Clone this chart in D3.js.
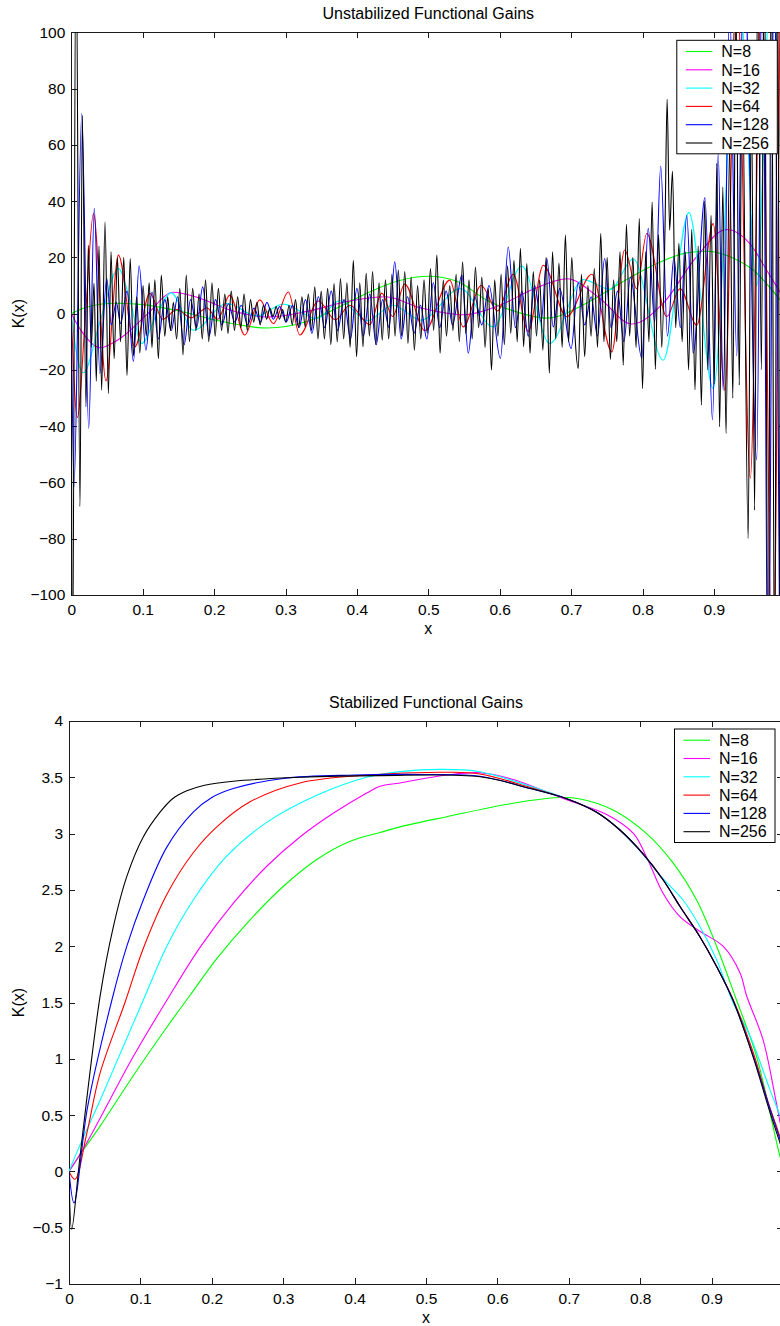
<!DOCTYPE html>
<html>
<head>
<meta charset="utf-8">
<script src="https://cdn.jsdelivr.net/npm/d3@7"></script>
<style>
  body { margin: 0; background: #fff; }
  svg { display: block; font-family: "Liberation Sans", Arial, Helvetica, sans-serif; }
  .tick text { font-size: 15.5px; fill: #000; }
  .axis path, .axis line { stroke: #1a1a1a; shape-rendering: crispEdges; }
  .title, .label, .legend text { font-size: 16px; fill: #000; }
</style>
</head>
<body>
<svg id="chart" width="780" height="1326"></svg>
<script>
const seriesNames = ['N=8', 'N=16', 'N=32', 'N=64', 'N=128', 'N=256'];
const xTicks = [0, 0.1, 0.2, 0.3, 0.4, 0.5, 0.6, 0.7, 0.8, 0.9];
const unstabTicks = [-100, -80, -60, -40, -20, 0, 20, 40, 60, 80, 100];
const stabTicks = [-1, -0.5, 0, 0.5, 1, 1.5, 2, 2.5, 3, 3.5, 4];

// unstabilized gains, [x, K(x)] (mostly extrema)
const unstabN8 = [[0,0],[0.02,2.2],[0.06,3.7],[0.1,3.2],[0.15,1.0],[0.2,-2.2],[0.274,-5.1],[0.33,-2.8],[0.38,3],[0.42,8],[0.46,11.8],[0.5,13.3],[0.54,11.5],[0.582,4.8],[0.625,0.5],[0.666,-1.6],[0.72,3.5],[0.77,11],[0.815,17.2],[0.86,21.5],[0.889,22.2],[0.925,20],[0.955,15.5],[0.993,4.8]];
const unstabN16 = [[0,0],[0.015,-6.5],[0.04,-12.1],[0.07,-8.5],[0.105,-0.5],[0.143,7.6],[0.18,5.5],[0.22,1.5],[0.275,-1.2],[0.33,0.8],[0.39,4.5],[0.44,6],[0.49,2],[0.55,-0.4],[0.6,3],[0.65,9],[0.694,12.4],[0.74,5.5],[0.785,-3.7],[0.83,4],[0.875,20],[0.918,29.9],[0.95,25],[0.975,15],[0.993,7.5]];
const unstabN32 = [[0,0],[0.006,-12],[0.017,-21],[0.04,-3],[0.066,16],[0.083,4],[0.0986,-10.6],[0.12,0],[0.14,7.4],[0.171,-5.9],[0.218,3.6],[0.26,-0.8],[0.297,3.4],[0.344,-1.8],[0.376,4.6],[0.415,-2.5],[0.45,3],[0.49,-2.3],[0.545,8.9],[0.591,-4.7],[0.631,16.9],[0.67,-10.6],[0.717,12.1],[0.755,8.6],[0.787,19.4],[0.829,-16.5],[0.865,35.9],[0.899,-26.6],[0.935,115],[0.96,10],[0.98,120],[0.995,40]];
const unstabN64 = [[0,0],[0.0084,-36.9],[0.02,0],[0.031,35.6],[0.0486,-23.9],[0.066,20.8],[0.089,-11.8],[0.11,7.2],[0.128,-2],[0.148,1.5],[0.168,-1.5],[0.19,2],[0.205,-2],[0.222,6.6],[0.243,-7.6],[0.264,4.9],[0.283,-3.5],[0.304,7.7],[0.32,-7.6],[0.346,4.5],[0.37,-2.2],[0.39,3],[0.418,-3.9],[0.435,7.3],[0.45,-1],[0.467,10.5],[0.495,-6],[0.53,11.9],[0.549,-4.7],[0.574,10],[0.597,1],[0.619,14],[0.64,-6.3],[0.661,17.2],[0.694,-1.1],[0.729,14],[0.757,-13.6],[0.775,22.6],[0.792,8.9],[0.806,28.5],[0.834,-1.1],[0.8526,8.9],[0.876,-4.1],[0.899,32],[0.9155,-27.2],[0.932,120],[0.951,-58.5],[0.967,120],[0.982,-140],[0.993,130]];
const unstabN128 = [[0,0],[0.0038,-61.5],[0.0146,71.1],[0.0244,-40.8],[0.0322,37.4],[0.040,-21.3],[0.0496,12.5],[0.056,-4],[0.063,4],[0.069,-3.5],[0.078,8],[0.087,-17],[0.095,17],[0.1045,-13],[0.113,7.7],[0.122,-9],[0.131,5],[0.14,-6],[0.149,6],[0.158,-11],[0.167,5],[0.1756,-5],[0.184,9.5],[0.193,-8],[0.202,5],[0.211,-4],[0.22,3.5],[0.229,-3],[0.238,3],[0.247,-4],[0.256,2],[0.265,-3],[0.274,4],[0.283,-2],[0.292,2.5],[0.301,-3],[0.31,3],[0.319,-5],[0.328,5],[0.337,-7],[0.346,6],[0.355,-5],[0.364,8],[0.373,-6],[0.382,5],[0.391,-9],[0.4,9],[0.409,-8],[0.418,7],[0.427,-11],[0.436,5],[0.445,-5],[0.453,18.4],[0.462,-9],[0.471,6],[0.48,-7],[0.489,3],[0.498,-9],[0.507,11],[0.516,-5],[0.525,8],[0.534,-4],[0.547,13.7],[0.556,-14.1],[0.565,6],[0.575,-4],[0.585,10],[0.601,-15.9],[0.612,23.7],[0.622,-5],[0.631,8],[0.64,-8],[0.649,10],[0.658,-3],[0.666,19.6],[0.675,-4.7],[0.684,9],[0.70,-12.4],[0.71,11],[0.719,-4],[0.728,6],[0.737,-8],[0.747,19.6],[0.756,-5],[0.765,8],[0.774,-10],[0.783,13],[0.799,-15.9],[0.808,30.3],[0.817,-3],[0.8255,52.4],[0.835,-8],[0.844,20],[0.853,-5],[0.862,35],[0.871,-14],[0.8875,41.3],[0.898,-37.8],[0.906,56.9],[0.913,-27.2],[0.922,110],[0.932,-15],[0.942,130],[0.96,-52],[0.968,140],[0.976,-150],[0.985,150],[0.993,-150]];
const unstabN256 = [[0,0],[0.0015,-140],[0.0066,140],[0.0122,-68.6],[0.0154,70.5],[0.0206,-33.1],[0.0238,24.3],[0.028,-12],[0.0318,10.8],[0.035,-24],[0.0388,24],[0.0425,-27.2],[0.0472,32.6],[0.052,-28.4],[0.0556,22],[0.060,-16],
  [0.0645,20],[0.069,-10],[0.0735,20],[0.078,-22],[0.0825,19.6],[0.087,-15],[0.0915,6],[0.096,-14],[0.1005,10],[0.105,-8],[0.109,11],[0.113,-12],[0.117,12],[0.122,-16],[0.126,13.7],[0.131,-8],
  [0.135,6],[0.139,-6],[0.143,4],[0.1475,-9],[0.152,9],[0.1565,-14.7],[0.161,13.7],[0.1655,-10],[0.17,9],[0.1745,-6],[0.179,7],[0.1835,-9],[0.188,12],[0.1925,-10],[0.197,11],[0.2015,-8],
  [0.206,9],[0.2105,-6],[0.215,7],[0.2195,-7],[0.224,8],[0.2285,-6],[0.233,6],[0.2375,-5],[0.242,7],[0.2465,-6],[0.251,5],[0.2555,-3],[0.26,4],[0.2645,-4],[0.269,3],[0.2735,-2],
  [0.278,2],[0.2825,-1],[0.287,2.5],[0.2915,-2],[0.296,1.5],[0.3005,-3],[0.305,3],[0.3095,-4],[0.314,5],[0.3185,-5],[0.323,6],[0.3275,-4.7],[0.332,7],[0.3365,-6],[0.341,9.5],[0.3455,-9],
  [0.35,8],[0.3545,-9],[0.359,9],[0.3635,-11],[0.368,10.7],[0.3725,-10],[0.377,12.5],[0.3815,-9],[0.386,11],[0.3905,-12],[0.395,19],[0.3995,-15.3],[0.404,11],[0.4085,-11.8],[0.413,14.3],[0.4175,-8],
  [0.422,15],[0.4265,-11],[0.431,11],[0.4355,-9.4],[0.44,12],[0.4445,-9],[0.449,14],[0.4535,-8],[0.458,15.5],[0.4625,-8],[0.467,15],[0.4715,-10.6],[0.476,13],[0.4805,-13],[0.485,10],[0.4895,-9],
  [0.494,12],[0.4985,-7],[0.503,16],[0.5075,-6],[0.512,20.8],[0.5165,-14.1],[0.521,11.9],[0.5255,-8],[0.53,10],[0.5345,-6],[0.539,14],[0.5435,-10],[0.548,18.4],[0.5525,-7],[0.557,12],[0.5615,-9],
  [0.566,16.6],[0.5705,-5],[0.575,13],[0.5795,-12],[0.584,9],[0.5885,-20],[0.593,12],[0.5975,-8],[0.602,14],[0.6065,-11],[0.611,17],[0.6155,-7],[0.62,19],[0.6245,-10],[0.629,23.2],[0.6335,-11.8],
  [0.638,17.8],[0.6425,-14.1],[0.647,15],[0.6515,-8],[0.656,12],[0.6605,-13],[0.665,20],[0.6695,-21.2],[0.674,22],[0.6785,-9],[0.683,18],[0.6875,-12],[0.692,27.9],[0.6965,-10],[0.701,20],[0.7055,-8],
  [0.71,-19.5],[0.7145,14],[0.719,-15.3],[0.7235,10],[0.728,-8],[0.7325,16],[0.737,-12],[0.7415,28.5],[0.746,-10],[0.7505,20],[0.755,-16.3],[0.7595,12],[0.764,-10],[0.7685,22],[0.773,-18.3],[0.7775,31.8],
  [0.782,-8],[0.7865,20],[0.791,-12],[0.7955,33.8],[0.80,-26.6],[0.8045,22],[0.809,-10],[0.8135,39.7],[0.818,-19.8],[0.8225,28],[0.827,-12],[0.8315,30],[0.8345,76.2],[0.838,29.7],[0.842,50.6],[0.8465,-5],
  [0.851,25],[0.8555,-10],[0.86,22],[0.8645,-20],[0.869,30],[0.8735,-27],[0.878,24],[0.8825,-32.5],[0.887,40],[0.8915,-20],[0.896,35],[0.9005,-25],[0.904,53.4],[0.908,-40.2],[0.9125,45],[0.917,-42.6],
  [0.922,60],[0.9265,-30],[0.931,110],[0.9355,-25.4],[0.9395,90],[0.948,-79.9],[0.9525,80],[0.957,-69.8],[0.9615,130],[0.9665,-20],[0.9705,140],[0.976,-140],[0.9805,140],[0.985,-140],[0.989,140],[0.993,-140],[0.997,140]];

// stabilized gains, [x, K(x)]
const stabN8 = [[0,0],[0.02,0.19],[0.0434,0.4],[0.09,0.85],[0.137,1.28],[0.169,1.56],[0.207,1.89],[0.253,2.23],[0.30,2.53],[0.347,2.77],[0.393,2.93],[0.4356,3.01],[0.4636,3.06],[0.529,3.15],[0.622,3.27],[0.687,3.32],[0.7145,3.31],[0.762,3.21],[0.809,3.0],[0.846,2.74],[0.879,2.41],[0.907,2.0],[0.935,1.52],[0.963,1.02],[0.996,0.13],[1,0.06]];
const stabN16 = [[0,0],[0.02,0.2],[0.0434,0.47],[0.09,1.02],[0.137,1.52],[0.1835,1.99],[0.23,2.38],[0.277,2.71],[0.3235,2.97],[0.37,3.18],[0.417,3.36],[0.4356,3.42],[0.4636,3.45],[0.529,3.52],[0.5756,3.54],[0.622,3.48],[0.697,3.30],[0.753,3.17],[0.7907,3.0],[0.809,2.79],[0.832,2.47],[0.856,2.26],[0.884,2.13],[0.916,2.0],[0.94,1.76],[0.949,1.56],[0.972,1.17],[0.99,0.63],[1,0.3]];
const stabN32 = [[0,0],[0.0144,0.22],[0.0434,0.63],[0.076,1.11],[0.104,1.52],[0.137,2.0],[0.174,2.41],[0.2208,2.8],[0.277,3.1],[0.347,3.34],[0.417,3.5],[0.4636,3.55],[0.52,3.57],[0.5756,3.55],[0.646,3.42],[0.697,3.31],[0.739,3.19],[0.772,3.03],[0.799,2.85],[0.832,2.6],[0.86,2.41],[0.884,2.17],[0.907,1.88],[0.93,1.5],[0.954,1.2],[0.982,0.72],[0.996,0.49],[1,0.4]];
const stabN64 = [[0,0],[0.0084,-0.07],[0.025,0.34],[0.0434,0.87],[0.0784,1.5],[0.104,1.98],[0.137,2.46],[0.174,2.83],[0.207,3.06],[0.253,3.28],[0.3235,3.45],[0.417,3.52],[0.529,3.545],[0.5756,3.53],[0.646,3.41],[0.697,3.31],[0.739,3.19],[0.772,3.03],[0.804,2.82],[0.832,2.59],[0.856,2.35],[0.884,2.08],[0.907,1.82],[0.93,1.53],[0.958,1.06],[0.979,0.62],[0.996,0.3],[1,0.2]];
const stabN128 = [[0,0],[0.007,-0.28],[0.026,0.57],[0.06,1.52],[0.081,2.0],[0.104,2.41],[0.137,2.88],[0.174,3.19],[0.2,3.32],[0.23,3.40],[0.30,3.49],[0.4,3.52],[0.5,3.525],[0.5756,3.51],[0.646,3.40],[0.697,3.31],[0.739,3.19],[0.772,3.03],[0.804,2.82],[0.832,2.59],[0.856,2.35],[0.884,2.08],[0.907,1.82],[0.93,1.52],[0.958,1.03],[0.982,0.55],[0.996,0.28],[1,0.2]];
const stabN256 = [[0,0],[0.0038,-0.514],[0.0154,0.13],[0.0434,1.55],[0.062,2.17],[0.081,2.62],[0.104,2.97],[0.1275,3.19],[0.145,3.31],[0.165,3.38],[0.19,3.43],[0.23,3.465],[0.3235,3.50],[0.4356,3.515],[0.5756,3.505],[0.646,3.40],[0.697,3.31],[0.739,3.19],[0.772,3.03],[0.804,2.82],[0.832,2.59],[0.856,2.35],[0.884,2.08],[0.907,1.82],[0.93,1.52],[0.958,1.02],[0.982,0.52],[0.996,0.25],[1,0.17]];

(function(){
  const colors = ['#00ff00', '#ff00ff', '#00ffff', '#ff0000', '#0000ff', '#000000'];
  const svg = d3.select('#chart');

  function panel(cfg){
    let x = d3.scaleLinear().domain([0, 1]).range([cfg.left, cfg.right]);
    let y = d3.scaleLinear().domain(cfg.yDomain).range([cfg.bottom, cfg.top]);
    let g = svg.append('g');
    let fmt = d3.format('');
    let noLabel = () => '';

    g.append('clipPath').attr('id', cfg.id + '-clip')
      .append('rect')
      .attr('x', cfg.left).attr('y', cfg.top)
      .attr('width', cfg.right - cfg.left).attr('height', cfg.bottom - cfg.top);

    let axes = [
      [d3.axisBottom(x).tickValues(xTicks).tickFormat(fmt).tickPadding(9), 'translate(0,' + cfg.bottom + ')'],
      [d3.axisTop(x).tickValues(xTicks).tickFormat(noLabel), 'translate(0,' + cfg.top + ')'],
      [d3.axisLeft(y).tickValues(cfg.yTicks).tickFormat(fmt).tickPadding(6), 'translate(' + cfg.left + ',0)'],
      [d3.axisRight(y).tickValues(cfg.yTicks).tickFormat(noLabel), 'translate(' + cfg.right + ',0)']
    ];
    axes.forEach(a => {
      g.append('g')
        .attr('class', 'axis')
        .attr('transform', a[1])
        .call(a[0].tickSizeInner(-6).tickSizeOuter(0))
        .attr('font-size', null)
        .attr('font-family', null);
    });

    let line = d3.line()
      .x(d => x(d[0]))
      .y(d => y(d[1]))
      .curve(cfg.curve);

    g.append('g')
      .attr('clip-path', 'url(#' + cfg.id + '-clip)')
      .selectAll('path')
      .data(cfg.series)
      .enter().append('path')
        .attr('d', line)
        .attr('fill', 'none')
        .attr('stroke', (d, i) => colors[i])
        .attr('stroke-width', 1.1)
        .attr('stroke-linejoin', 'round');

    let cx = (cfg.left + cfg.right) / 2;
    g.append('text').attr('class', 'title')
      .attr('x', cx).attr('y', cfg.top - 13)
      .attr('text-anchor', 'middle')
      .text(cfg.title);
    g.append('text').attr('class', 'label')
      .attr('x', cx).attr('y', cfg.bottom + 39)
      .attr('text-anchor', 'middle')
      .text('x');
    g.append('text').attr('class', 'label')
      .attr('transform', 'translate(24,' + ((cfg.top + cfg.bottom) / 2) + ') rotate(-90)')
      .attr('text-anchor', 'middle')
      .text('K(x)');

    // legend box in the upper right corner
    let lw = 100.5, lh = 113.5;
    let lg = g.append('g').attr('class', 'legend')
      .attr('transform', 'translate(' + (cfg.right - 8 - lw) + ',' + (cfg.top + 8) + ')');
    lg.append('rect')
      .attr('width', lw).attr('height', lh)
      .attr('fill', '#fff').attr('stroke', '#000').attr('stroke-width', 1);
    seriesNames.forEach((name, i) => {
      let ly = 11.2 + i * 18.3;
      lg.append('line')
        .attr('x1', 9).attr('x2', 35.5).attr('y1', ly).attr('y2', ly)
        .attr('stroke', colors[i]).attr('stroke-width', 1.1);
      lg.append('text')
        .attr('x', 44.5).attr('y', ly).attr('dy', '0.36em')
        .text(name);
    });
  }

  panel({
    id: 'unstab', title: 'Unstabilized Functional Gains',
    left: 71.3, right: 785.3, top: 32.3, bottom: 595,
    yDomain: [-100, 100], yTicks: unstabTicks,
    curve: d3.curveMonotoneX,
    series: [unstabN8, unstabN16, unstabN32, unstabN64, unstabN128, unstabN256]
  });

  panel({
    id: 'stab', title: 'Stabilized Functional Gains',
    left: 69, right: 783, top: 721, bottom: 1284,
    yDomain: [-1, 4], yTicks: stabTicks,
    curve: d3.curveCatmullRom.alpha(0.5),
    series: [stabN8, stabN16, stabN32, stabN64, stabN128, stabN256]
  });
})();
</script>
</body>
</html>
